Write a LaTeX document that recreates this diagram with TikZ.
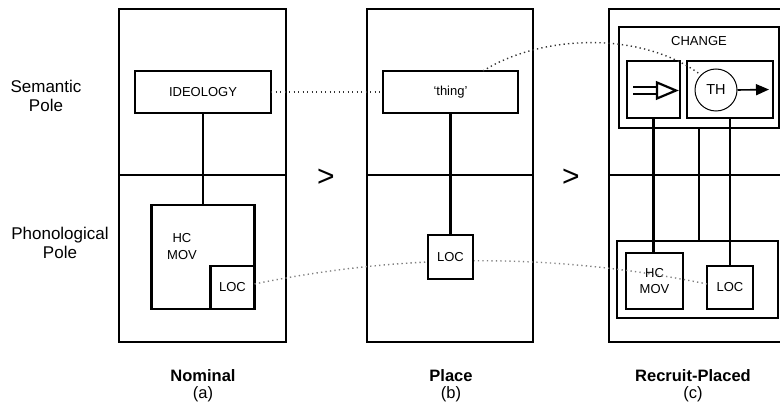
\documentclass[tikz,border=0pt]{standalone}
\usepackage{fontspec}
\setmainfont{Liberation Sans}
\usetikzlibrary{arrows.meta}
\begin{document}
\begin{tikzpicture}[x=1pt,y=-1pt,
  panel/.style={draw, line width=2.2pt},
  box/.style={draw, line width=2.2pt, inner sep=0pt, outer sep=0pt, align=center, font=\fontsize{13}{16.5}\selectfont},
  boxtext/.style={inner sep=0pt, align=center, font=\fontsize{13}{16.5}\selectfont},
  wire/.style={line width=2.2pt},
  dotdark/.style={draw=black!80, line width=1.4pt, dash pattern=on 1.3pt off 3.2pt},
  dotlight/.style={draw=black!50, line width=1.4pt, dash pattern=on 1.3pt off 3.2pt},
  lbl/.style={inner sep=0pt, font=\fontsize{17}{18.5}\selectfont, align=center},
  ttl/.style={inner sep=0pt, font=\fontsize{16.5}{17}\selectfont, align=center},
  gtsign/.style={inner sep=0pt, font=\fontsize{30}{30}\selectfont}]
\useasboundingbox (0,0) rectangle (780,409);
\clip (0,0) rectangle (780,409);
\fill[white] (0,0) rectangle (780,409);

% panels
\draw[panel] (119,9) rectangle (286,342);
\draw[panel] (119,175) -- (286,175);
\draw[panel] (367,9) rectangle (533,342);
\draw[panel] (367,175) -- (533,175);
\draw[panel] (609,9) rectangle (795,342);
\draw[panel] (609,175) -- (795,175);

% side labels
\node[lbl] (sem) at (46,96) {Semantic\\Pole};
\node[lbl] (pho) at (60,243) {Phonological\\Pole};

% > signs
\node[gtsign] (gt1) at (326,178) {>};
\node[gtsign] (gt2) at (571,178) {>};

% panel (a)
\node[box, minimum width=136pt, minimum height=42pt] (ideo) at (203,92) {IDEOLOGY};
\node[box, minimum width=103pt, minimum height=104pt] (hcmA) at (203,257) {};
\node[box, minimum width=44pt, minimum height=43pt] (locA) at (232.5,287.5) {LOC};
\node[boxtext] (hcmAt) at (182,246.5) {HC\\MOV};
\draw[wire] (ideo.south) -- (hcmA.north);

% panel (c) nodes
\node[box, minimum width=160pt, minimum height=101pt] (change) at (699,77.5) {};
\node[boxtext] (changet) at (699,41) {CHANGE};
\node[box, minimum width=53pt, minimum height=57pt] (pathb) at (653.5,89.5) {};
\node[box, minimum width=86pt, minimum height=57pt] (thb) at (730,89.5) {};
\node[draw, circle, line width=1pt, minimum size=42pt, inner sep=0pt, font=\fontsize{14.5}{16}\selectfont] (th) at (716,90) {TH};
\draw[line width=1.6pt, -{Triangle[length=13pt,width=11pt]}] (th.east) -- ([xshift=-4pt]thb.east);
% double (path) arrow
\draw[line width=2.2pt] (633,87) -- (657,87) (633,94) -- (657,94);
\draw[line width=2.2pt, line join=miter] (657,82.5) -- (676,90.5) -- (657,98.5) -- cycle;

\node[box, minimum width=161pt, minimum height=77pt] (lowbox) at (697.5,279.5) {};
\node[box, minimum width=57pt, minimum height=56pt] (hcmC) at (654.5,281) {HC\\MOV};
\node[box, minimum width=46pt, minimum height=43pt] (locC) at (730,287.5) {LOC};
\draw[wire] (pathb.south) -- (pathb.south |- hcmC.north);
\draw[wire] (change.south) -- (change.south |- lowbox.north);
\draw[wire] (thb.south) -- (locC.north);

% panel (b)
\node[box, fill=white, minimum width=135pt, minimum height=42pt] (thing) at (450.5,92) {‘thing’};

% dotted correspondences
\draw[dotdark] (ideo.east) -- (thing.west);
\draw[dotdark] ([xshift=32.5pt]thing.north) .. controls (540,35) and (640,30) .. (th.135);
\draw[dotlight] ([yshift=3.5pt]locA.east) .. controls (405,253) and (555,253) .. ([yshift=3.5pt]locC.west);

\node[box, fill=white, minimum width=45pt, minimum height=44pt] (locB) at (450.5,257) {LOC};
\draw[wire] (thing.south) -- (locB.north);

% titles
\node[ttl] (ta) at (203,385.5) {\textbf{Nominal}\\(a)};
\node[ttl] (tb) at (451,385.5) {\textbf{Place}\\(b)};
\node[ttl] (tc) at (693,385.5) {\textbf{Recruit-Placed}\\(c)};
\end{tikzpicture}
\end{document}
